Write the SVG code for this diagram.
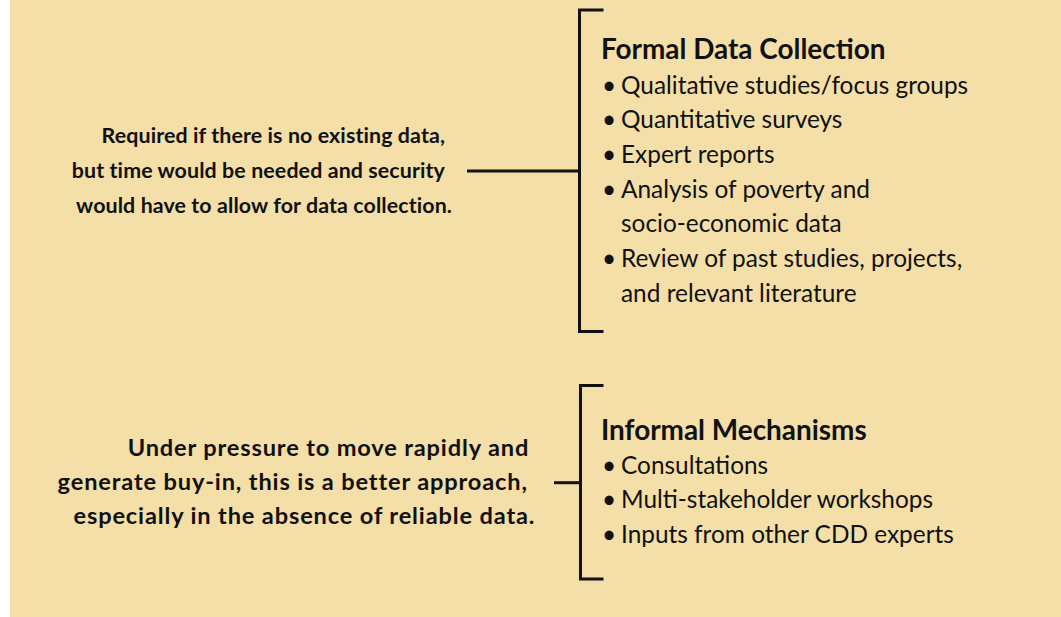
<svg xmlns="http://www.w3.org/2000/svg" width="1061" height="617" viewBox="0 0 1061 617">
<style>
.bg{fill:#F3DFA7}
.ln{fill:none;stroke:#111;stroke-width:3}
text{font-family:Lato,"Open Sans","Liberation Sans",sans-serif;fill:#111}
.q{font-weight:700;font-size:21.4px;text-anchor:end;letter-spacing:0.1px}
.q2{font-weight:700;font-size:23.6px;text-anchor:end;letter-spacing:0.85px}
.t{font-weight:700;font-size:27.9px}
.i{font-size:24.4px}
</style>
<rect class="bg" x="10" y="0" width="1051" height="617"/>
<g id="connectors">
<path class="ln" d="M603.5,10 H579.5 V331.5 H603.5"/>
<path class="ln" d="M467,171 H579.5"/>
<path class="ln" d="M603.5,385.5 H580.5 V579 H603.5"/>
<path class="ln" d="M554,482.7 H580.5"/>
</g>
<g id="note1">
<text class="q" x="445" y="143.3">Required if there is no existing data,</text>
<text class="q" x="445" y="178.3">but time would be needed and security</text>
<text class="q" x="452" y="212.7">would have to allow for data collection.</text>
</g>
<g id="formal">
<text class="t" x="601" y="59.3">Formal Data Collection</text>
<text class="i" x="602" y="94.3">•</text><text class="i" x="621" y="94.3">Qualitative studies/focus groups</text>
<text class="i" x="602" y="128.3">•</text><text class="i" x="621" y="128.3">Quantitative surveys</text>
<text class="i" x="602" y="163.3">•</text><text class="i" x="621" y="163.3">Expert reports</text>
<text class="i" x="602" y="198.3">•</text><text class="i" x="621" y="198.3">Analysis of poverty and</text>
<text class="i" x="621" y="232.3">socio-economic data</text>
<text class="i" x="602" y="267.3">•</text><text class="i" x="621" y="267.3">Review of past studies, projects,</text>
<text class="i" x="621" y="301.7">and relevant literature</text>
</g>
<g id="note2">
<text class="q2" x="529.2" y="455.7">Under pressure to move rapidly and</text>
<text class="q2" x="527.8" y="490">generate buy-in, this is a better approach,</text>
<text class="q2" x="535.3" y="524.3">especially in the absence of reliable data.</text>
</g>
<g id="informal">
<text class="t" x="601" y="440">Informal Mechanisms</text>
<text class="i" x="602" y="474.3">•</text><text class="i" x="621" y="474.3">Consultations</text>
<text class="i" x="602" y="508.3">•</text><text class="i" x="621" y="508.3">Multi-stakeholder workshops</text>
<text class="i" x="602" y="543.3">•</text><text class="i" x="621" y="543.3">Inputs from other CDD experts</text>
</g>
</svg>
